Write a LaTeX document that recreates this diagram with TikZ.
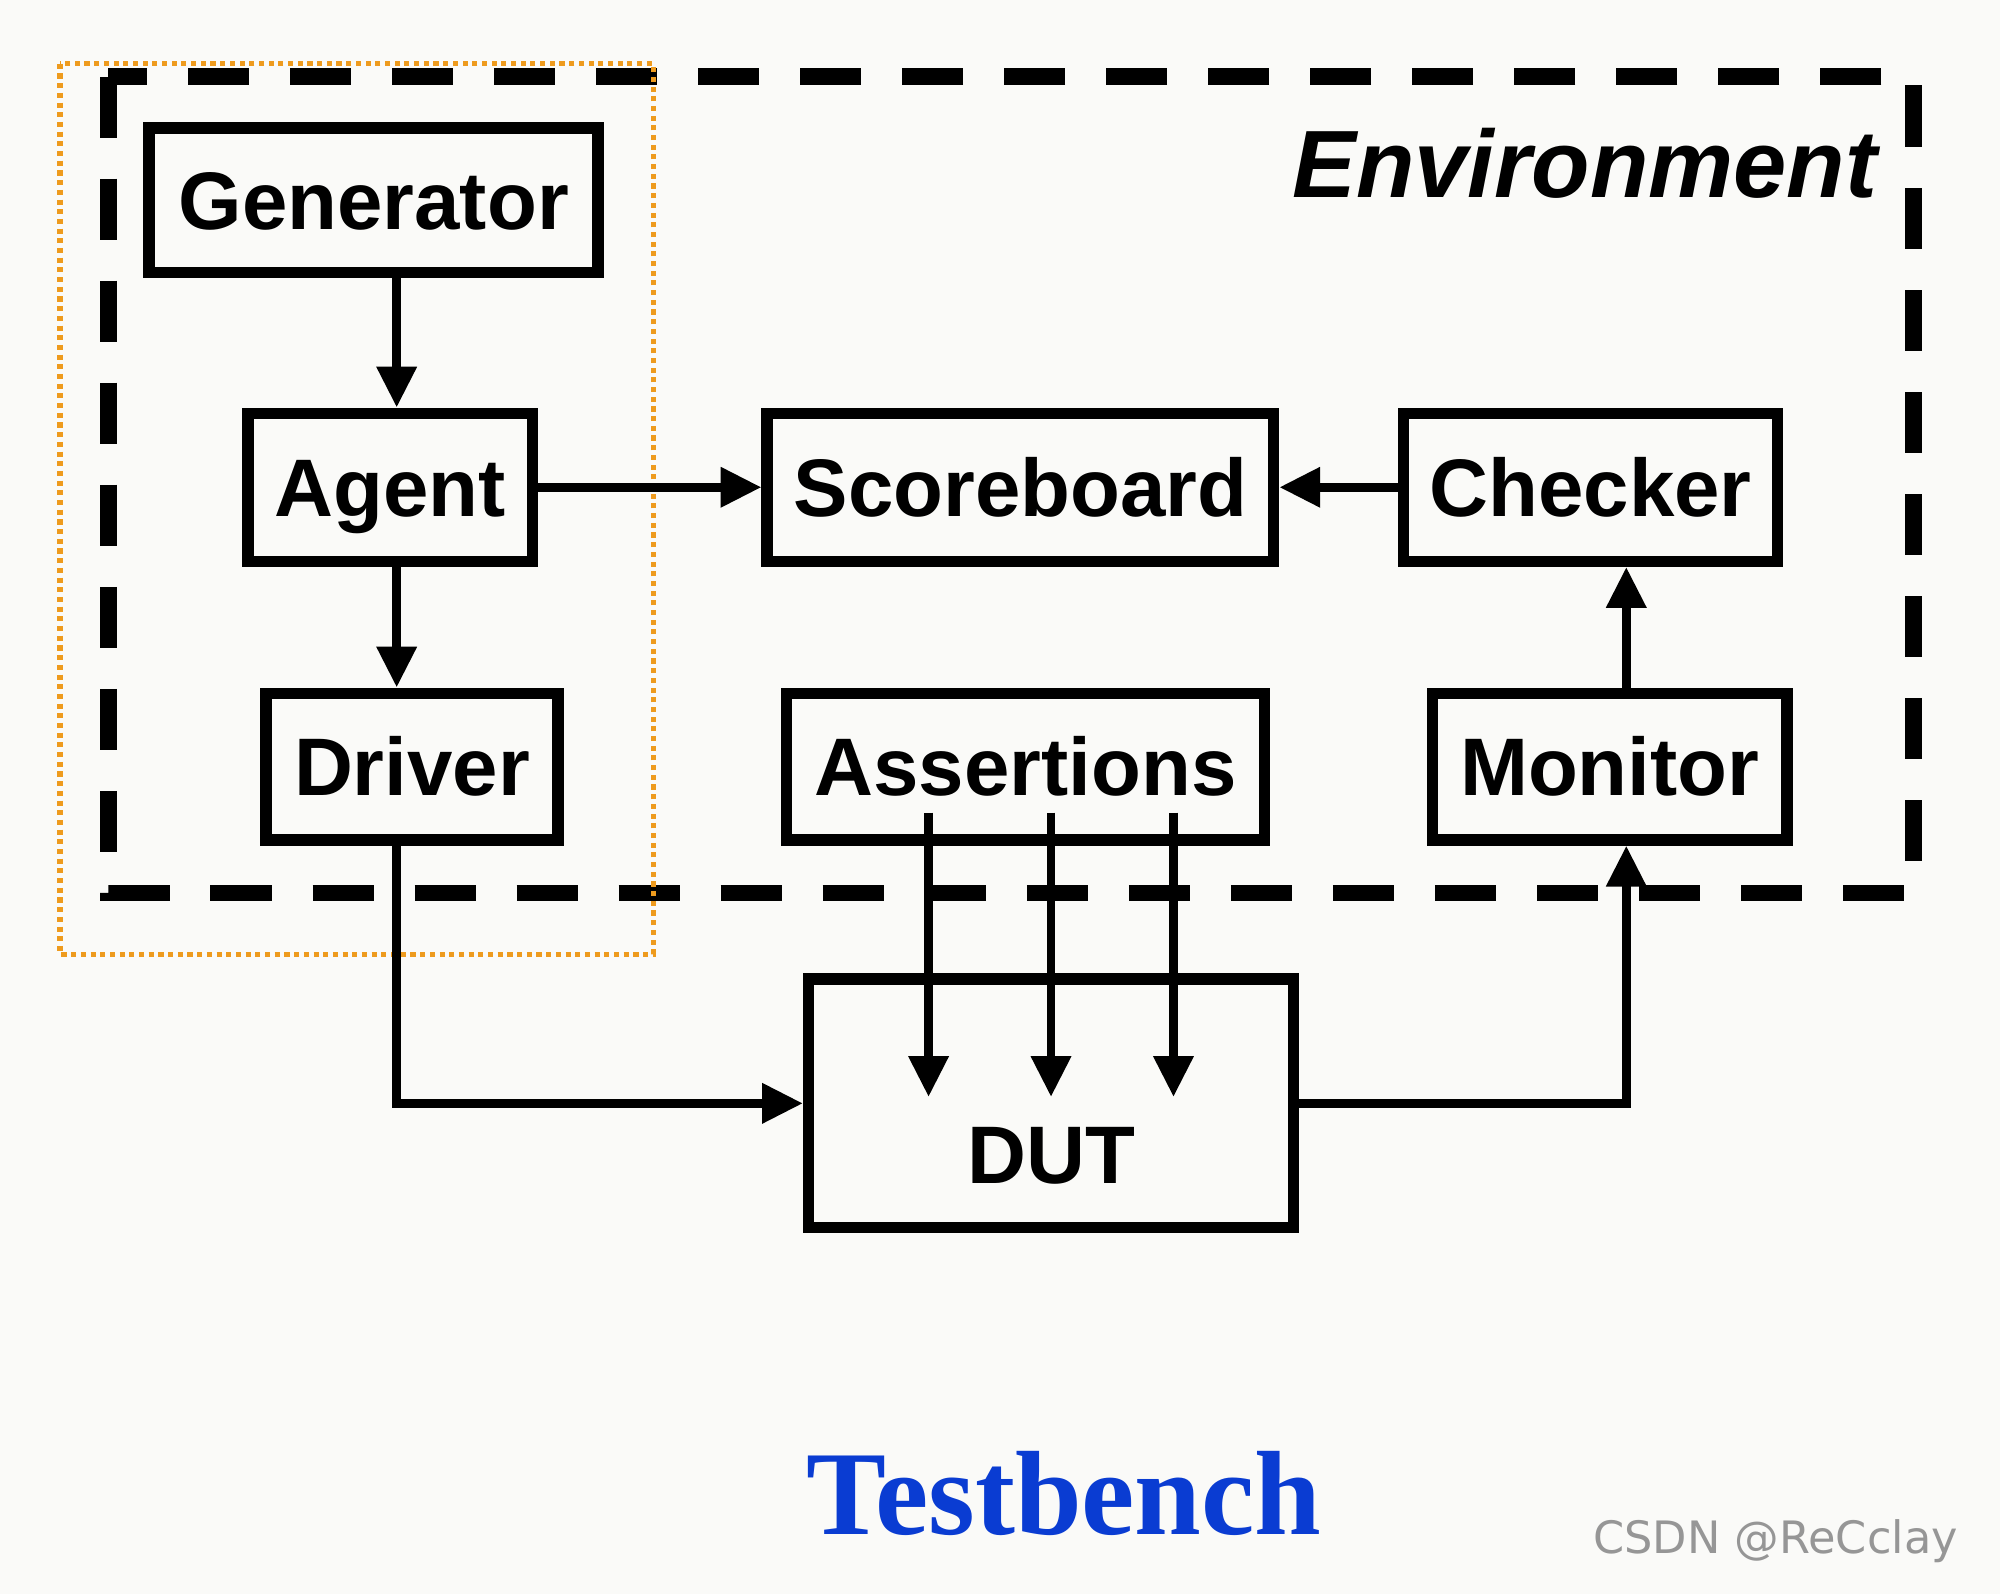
\documentclass[tikz,border=0pt]{standalone}
\usepackage{fontspec}
\setmainfont{Liberation Sans}
\newfontfamily\tbserif{Liberation Serif}
\newfontfamily\wmfont{DejaVu Sans}
\usetikzlibrary{arrows.meta}
\definecolor{bgc}{RGB}{250,250,248}
\definecolor{agorange}{RGB}{238,155,30}
\definecolor{tbblue}{RGB}{10,60,210}
\definecolor{wmgray}{RGB}{150,150,150}
\begin{document}
\begin{tikzpicture}[x=0.5pt,y=-0.5pt,
  blk/.style 2 args={draw, line width=4.5pt, minimum width=#1*0.5pt, minimum height=#2*0.5pt,
    inner sep=0pt, text height=22.9pt, text depth=0pt,
    font=\fontsize{32}{36}\selectfont\bfseries},
  arr/.style={line width=3.5pt, -{Triangle[length=16pt,width=15pt]}},
  envbox/.style={line width=6.5pt, dash pattern=on 24pt off 16pt},
  agentbox/.style={agorange, line width=2pt, dash pattern=on 2pt off 1.8pt}]
\fill[bgc] (0,0) rectangle (1568,1250);
\useasboundingbox (0,0) rectangle (1568,1250);
% environment
\draw[envbox] (85,60) rectangle (1500,700);
% blocks
\node[blk={352}{113}] (gen) at (293,157) {Generator};
\node[blk={223}{116}] (agent) at (306,382) {Agent};
\node[blk={229}{115}] (driver) at (323,601) {Driver};
\node[blk={397}{116}] (score) at (800,382) {Scoreboard};
\node[blk={293}{116}] (checker) at (1247,382) {Checker};
\node[blk={375}{115}] (assert) at (804,601) {Assertions};
\node[blk={278}{115}] (monitor) at (1262,601) {Monitor};
\node[blk={380}{195}] (dut) at (824,865) {};
\node[font=\fontsize{32}{36}\selectfont\bfseries, text height=22.9pt, text depth=0pt, inner sep=0pt] (duttxt) at (824,905) {DUT};
\node[anchor=east, font=\fontsize{37.5}{42}\selectfont\bfseries\itshape, text height=26.8pt, text depth=0pt, inner sep=0pt] (env) at (1472,128) {Environment};
% agent group (orange dotted)
\draw[agentbox] (47,50) rectangle (512,748);
% coordinates for connector columns
\coordinate (ax) at (311,0);
\coordinate (mx) at (1275,0);
\coordinate (a1) at (728,637);
\coordinate (a2) at (824,637);
\coordinate (a3) at (920,637);
\coordinate (at) at (0,860);
% connectors
\draw[arr] (gen.south -| ax) -- (agent.north -| ax);
\draw[arr] (agent.south -| ax) -- (driver.north -| ax);
\draw[arr] (agent.east |- score.west) -- (score.west);
\draw[arr] (checker.west) -- (score.east);
\draw[arr] (monitor.north -| mx) -- (checker.south -| mx);
\draw[arr] (driver.south -| ax) |- (dut.west);
\draw[arr] (dut.east) -| (monitor.south -| mx);
\draw[arr] (a1) -- (a1 |- at);
\draw[arr] (a2) -- (a2 |- at);
\draw[arr] (a3) -- (a3 |- at);
% titles
\node[font=\fontsize{47}{52}\selectfont\tbserif\bfseries, text=tbblue, text height=31pt, text depth=0pt, inner sep=0pt] (tb) at (834,1172) {Testbench};
\node[font=\fontsize{17.5}{20}\selectfont\wmfont, text=wmgray, inner sep=0pt] (wm) at (1392,1208) {CSDN @ReCclay};
\end{tikzpicture}
\end{document}
